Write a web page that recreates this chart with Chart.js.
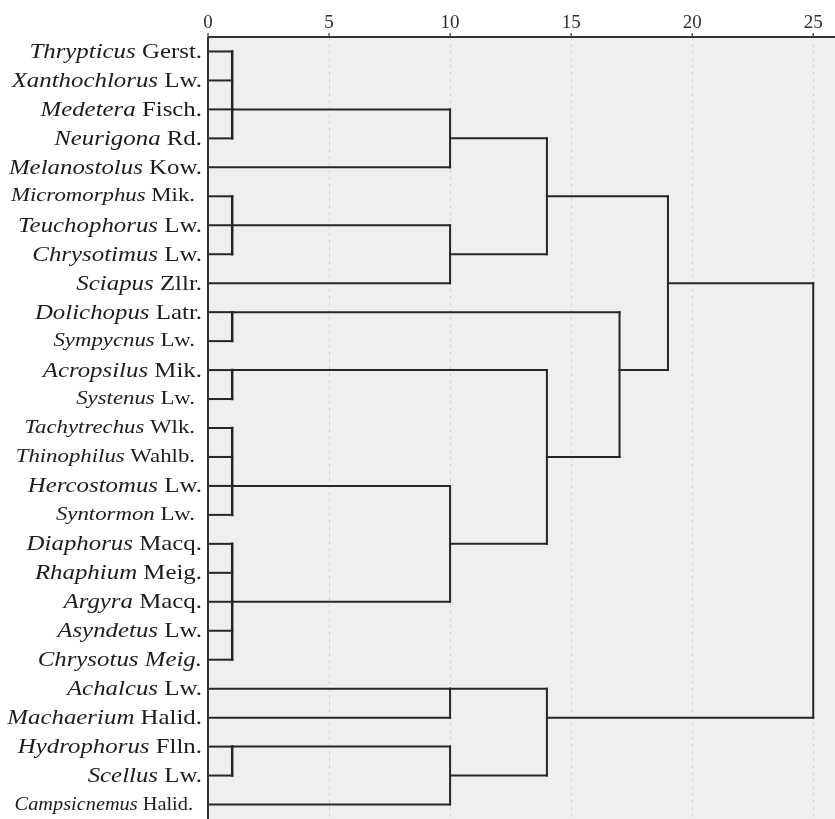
<!DOCTYPE html>
<html>
<head>
<meta charset="utf-8">
<script src="https://cdn.jsdelivr.net/npm/chart.js@4/dist/chart.umd.min.js"></script>
<style>
  html, body { margin: 0; padding: 0; background: #ffffff; }
  #wrap { width: 835px; height: 819px; position: relative; }
</style>
</head>
<body>
<div id="wrap"><canvas id="dendro"></canvas></div>
<script>
// Leaf labels (top to bottom): genus name (italic) and author abbreviation
const genera = [
  'Thrypticus', 'Xanthochlorus', 'Medetera', 'Neurigona', 'Melanostolus',
  'Micromorphus', 'Teuchophorus', 'Chrysotimus', 'Sciapus', 'Dolichopus',
  'Sympycnus', 'Acropsilus', 'Systenus', 'Tachytrechus', 'Thinophilus',
  'Hercostomus', 'Syntormon', 'Diaphorus', 'Rhaphium', 'Argyra',
  'Asyndetus', 'Chrysotus', 'Achalcus', 'Machaerium', 'Hydrophorus',
  'Scellus', 'Campsicnemus'
];
const authors = [
  'Gerst.', 'Lw.', 'Fisch.', 'Rd.', 'Kow.',
  'Mik.', 'Lw.', 'Lw.', 'Zllr.', 'Latr.',
  'Lw.', 'Mik.', 'Lw.', 'Wlk.', 'Wahlb.',
  'Lw.', 'Lw.', 'Macq.', 'Meig.', 'Macq.',
  'Lw.', 'Meig.', 'Lw.', 'Halid.', 'Flln.',
  'Lw.', 'Halid.'
];

// Distance axis ticks
const xTicks = [0, 5, 10, 15, 20, 25];

// Agglomeration steps: members are leaf indices (numbers) or earlier steps ('m' + step index)
const mergeMembers = [
  [0, 1, 2, 3],         // m0
  ['m0', 4],            // m1
  [5, 6, 7],            // m2
  ['m2', 8],            // m3
  ['m1', 'm3'],         // m4
  [9, 10],              // m5
  [11, 12],             // m6
  [13, 14, 15, 16],     // m7
  [17, 18, 19, 20, 21], // m8
  ['m7', 'm8'],         // m9
  ['m6', 'm9'],         // m10
  ['m5', 'm10'],        // m11
  ['m4', 'm11'],        // m12
  [22, 23],             // m13
  [24, 25],             // m14
  ['m14', 26],          // m15
  ['m13', 'm15'],       // m16
  ['m12', 'm16']        // m17 (root)
];
// Rescaled distance at which each step joins
const mergeDistances = [1, 10, 1, 10, 14, 1, 1, 1, 1, 10, 14, 17, 19, 10, 1, 10, 14, 25];
// Leaf row on which each joined cluster continues
const mergeRows = [2, 3, 6, 7, 5, 9, 11, 15, 19, 17, 14, 11, 8, 22, 24, 25, 23, null];

// Label type classes
const smallLabels = new Set(['Micromorphus', 'Sympycnus', 'Systenus', 'Tachytrechus',
  'Thinophilus', 'Syntormon']);
const tinyLabels = new Set(['Campsicnemus']);
const allItalic = new Set(['Chrysotus']);

const LINE = '#262626';
const SERIF = '"Liberation Serif", "Times New Roman", serif';

function nodeInfo(ref) {
  if (typeof ref === 'number') return { row: ref, dist: 0 };
  const k = parseInt(ref.slice(1), 10);
  return { row: mergeRows[k], dist: mergeDistances[k] };
}

const datasets = [];
function seg(a, b, w) {
  datasets.push({
    data: [a, b],
    borderColor: LINE,
    borderWidth: w || 2,
    pointRadius: 0,
    fill: false,
    tension: 0,
    borderCapStyle: 'square'
  });
}

mergeMembers.forEach((members, k) => {
  const h = mergeDistances[k];
  const rows = [];
  members.forEach(m => {
    const info = nodeInfo(m);
    rows.push(info.row);
    seg({ x: info.dist, y: info.row }, { x: h, y: info.row }, 2);
  });
  seg({ x: h, y: Math.min(...rows) }, { x: h, y: Math.max(...rows) }, h <= 1 ? 2.5 : 2);
});

const backdrop = {
  id: 'backdrop',
  beforeDraw(chart) {
    const { ctx, chartArea: a, scales } = chart;
    ctx.save();
    ctx.fillStyle = '#efefef';
    ctx.fillRect(a.left, a.top, a.right - a.left, a.bottom - a.top);
    // dotted reference lines at the tick values
    ctx.strokeStyle = '#d2d2d2';
    ctx.lineWidth = 1;
    ctx.setLineDash([3, 4]);
    xTicks.forEach(t => {
      if (t === 0) return;
      const x = Math.round(scales.x.getPixelForValue(t)) + 0.5;
      ctx.beginPath();
      ctx.moveTo(x, a.top);
      ctx.lineTo(x, a.bottom);
      ctx.stroke();
    });
    ctx.restore();
  },
  afterDatasetsDraw(chart) {
    const { ctx, chartArea: a, scales } = chart;
    ctx.save();
    ctx.strokeStyle = '#333333';
    ctx.lineWidth = 2;
    ctx.beginPath();
    ctx.moveTo(a.left, a.top);
    ctx.lineTo(a.right, a.top);
    ctx.moveTo(a.left, a.top);
    ctx.lineTo(a.left, a.bottom);
    ctx.stroke();
    // small tick marks under the numbers
    ctx.lineWidth = 1.2;
    xTicks.forEach(t => {
      const x = scales.x.getPixelForValue(t);
      ctx.beginPath();
      ctx.moveTo(x, a.top - 4);
      ctx.lineTo(x, a.top);
      ctx.stroke();
    });
    ctx.restore();
  }
};

const leafLabels = {
  id: 'leafLabels',
  afterDraw(chart) {
    const { ctx, scales } = chart;
    ctx.save();
    ctx.fillStyle = '#1c1c1c';
    ctx.textBaseline = 'alphabetic';
    ctx.textAlign = 'right';
    genera.forEach((g, i) => {
      let size = 22, stretch = 1.13, right = 202, drop = 6.5;
      if (smallLabels.has(g)) { size = 19; stretch = 1.2; right = 195; drop = 5; }
      if (tinyLabels.has(g)) { size = 19; stretch = 1.07; right = 193; drop = 5; }
      const y = scales.y.getPixelForValue(i) + drop;
      const italic = `italic ${size}px ${SERIF}`;
      const roman = allItalic.has(g) ? italic : `${size}px ${SERIF}`;
      ctx.save();
      ctx.translate(right, y);
      ctx.scale(stretch, 1);
      ctx.font = roman;
      const aw = ctx.measureText(authors[i]).width;
      const sw = ctx.measureText(' ').width;
      ctx.fillText(authors[i], 0, 0);
      ctx.font = italic;
      ctx.fillText(g, -(aw + sw), 0);
      ctx.restore();
    });
    ctx.restore();
  }
};

new Chart(document.getElementById('dendro'), {
  type: 'line',
  data: { datasets },
  options: {
    responsive: true,
    maintainAspectRatio: false,
    animation: false,
    layout: { padding: { left: 208, right: 0, top: 0, bottom: 0 } },
    plugins: { legend: { display: false }, tooltip: { enabled: false } },
    scales: {
      x: {
        type: 'linear',
        position: 'top',
        min: 0,
        max: 25.9,
        afterBuildTicks(scale) { scale.ticks = xTicks.map(v => ({ value: v })); },
        afterFit(scale) { scale.height = 37; },
        grid: { display: false, drawTicks: false },
        border: { display: false },
        ticks: {
          color: '#2e2e2e',
          padding: 3,
          maxRotation: 0,
          font: { family: SERIF, size: 19 },
          callback: v => String(v)
        }
      },
      y: {
        type: 'linear',
        min: -0.5,
        max: 26.5,
        reverse: true,
        display: false
      }
    }
  },
  plugins: [backdrop, leafLabels]
});
</script>
</body>
</html>
